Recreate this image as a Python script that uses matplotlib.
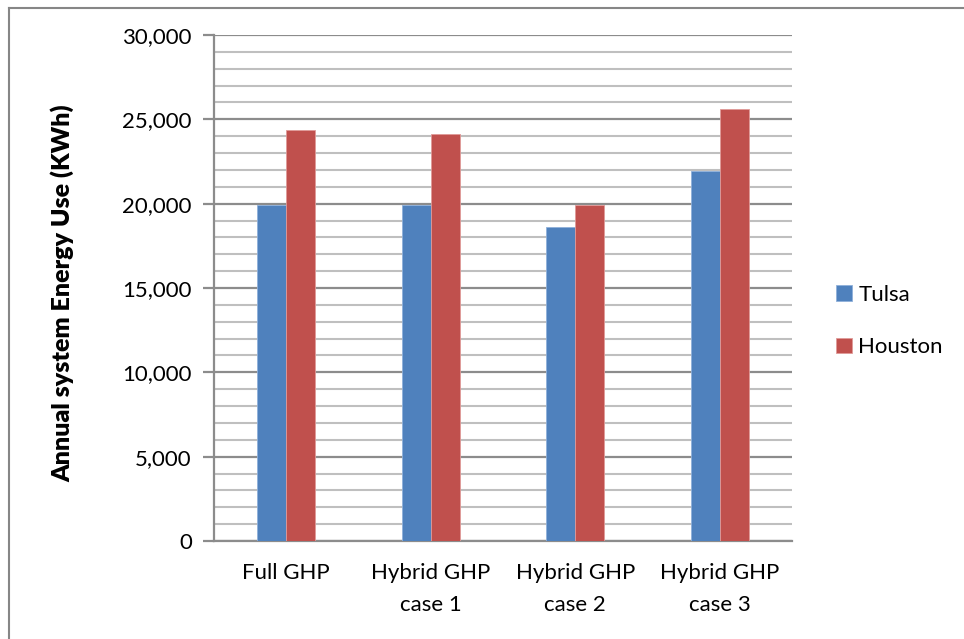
import matplotlib
matplotlib.use("Agg")
import matplotlib.pyplot as plt
import numpy as np
from matplotlib.lines import Line2D
from matplotlib.ticker import MultipleLocator, FuncFormatter

plt.rcParams['font.family'] = ['Lato', 'DejaVu Sans']

categories = ["Full GHP", "Hybrid GHP\ncase 1", "Hybrid GHP\ncase 2", "Hybrid GHP\ncase 3"]
tulsa = [19920, 19920, 18630, 21960]
houston = [24380, 24160, 19940, 25630]
series_names = ["Tulsa", "Houston"]
colors = ["#4f81bd", "#c0504d"]
y_label = "Annual system Energy Use (KWh)"

W, H = 964, 639
fig = plt.figure(figsize=(W / 100, H / 100), dpi=100)

# chart frame (left and top edges)
fig.add_artist(Line2D([9 / W, 9 / W], [0, 1 - 8 / H], transform=fig.transFigure,
                      color="#868686", lw=1.5))
fig.add_artist(Line2D([9 / W, 1], [1 - 8 / H, 1 - 8 / H], transform=fig.transFigure,
                      color="#868686", lw=1.5))

ax = fig.add_axes([214 / W, (H - 541) / H, (792 - 214) / W, (541 - 35) / H])

x = np.arange(len(categories))
bw = 0.2
ax.bar(x - bw / 2, tulsa, bw, color=colors[0], edgecolor="#8fb0da", linewidth=0.6,
       label=series_names[0], zorder=3)
ax.bar(x + bw / 2, houston, bw, color=colors[1], edgecolor="#e09a98", linewidth=0.6,
       label=series_names[1], zorder=3)

ax.set_xlim(-0.5, len(categories) - 0.5)
ax.set_ylim(0, 30000)

ax.yaxis.set_major_locator(MultipleLocator(5000))
ax.yaxis.set_minor_locator(MultipleLocator(1000))
ax.yaxis.set_major_formatter(FuncFormatter(lambda v, p: f"{int(v):,}"))

ax.grid(axis="y", which="minor", color="#bfbfbf", lw=1.5, zorder=0)
ax.grid(axis="y", which="major", color="#8c8c8c", lw=1.6, zorder=1)
ax.set_axisbelow(True)

for s in ["top", "right"]:
    ax.spines[s].set_visible(False)
ax.spines["left"].set_color("#8c8c8c")
ax.spines["left"].set_linewidth(1.6)
ax.spines["bottom"].set_color("#8c8c8c")
ax.spines["bottom"].set_linewidth(1.6)

ax.tick_params(axis="y", which="major", length=8, width=1.6, color="#8c8c8c",
               labelsize=16, pad=8, labelcolor="black")
ax.tick_params(axis="y", which="minor", length=0)
ax.set_xticks(x)
ax.set_xticklabels(categories, linespacing=1.75)
ax.tick_params(axis="x", length=0, labelsize=16, pad=16, labelcolor="black")

fig.text(62 / W, 1 - 293 / H, y_label, rotation=90, ha="center", va="center",
         fontsize=18, fontweight="heavy")

fig.legend(loc="center left", bbox_to_anchor=(816 / W, 1 - 321 / H), frameon=False,
           fontsize=16, handlelength=0.7, handleheight=0.7, handletextpad=0.3,
           labelspacing=1.45)

fig.savefig("out.png", dpi=100)
